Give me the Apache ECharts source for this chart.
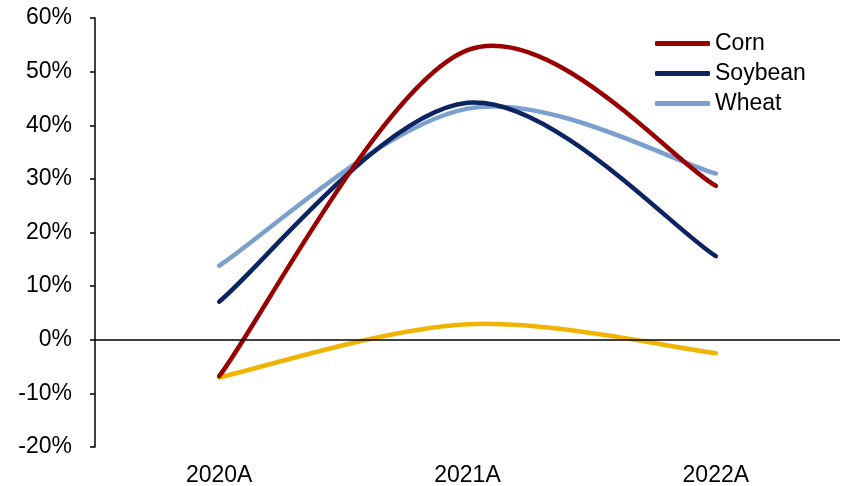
<!DOCTYPE html>
<html>
<head>
<meta charset="utf-8">
<script src="https://cdn.jsdelivr.net/npm/echarts@6/dist/echarts.min.js"></script>
<style>html,body{margin:0;padding:0;background:#fff}#c{width:845px;height:486px}</style>
</head>
<body>
<div id="c"></div>
<script>
const categories = ['2020A', '2021A', '2022A'];
const corn = [-6.8, 54.0, 28.7];
const soybean = [7.1, 44.2, 15.6];
const wheat = [13.8, 43.1, 31.0];
const other = [-7.0, 2.9, -2.5];
const yTicks = [-20, -10, 0, 10, 20, 30, 40, 50, 60];

const chart = echarts.init(document.getElementById('c'));
const font = 'Liberation Sans, Arial, sans-serif';

// Smoothed line (Catmull-Rom style, like a spreadsheet's smoothed line) drawn via the axes' scales
function smoothLine(name, values, color) {
  return {
    name: name, type: 'custom', z: 3,
    data: values.map((v, i) => [i, v]),
    itemStyle: { color: color },
    encode: { x: 0, y: 1 },
    renderItem: function (params, api) {
      if (params.dataIndex !== 0) return null;
      const pts = values.map((v, i) => api.coord([i, v]));
      const n = pts.length;
      let d = 'M' + pts[0][0] + ' ' + pts[0][1];
      for (let i = 0; i < n - 1; i++) {
        const p0 = pts[Math.max(i - 1, 0)], p1 = pts[i], p2 = pts[i + 1], p3 = pts[Math.min(i + 2, n - 1)];
        const c1 = [p1[0] + (p2[0] - p0[0]) / 6, p1[1] + (p2[1] - p0[1]) / 6];
        const c2 = [p2[0] - (p3[0] - p1[0]) / 6, p2[1] - (p3[1] - p1[1]) / 6];
        d += ' C' + c1[0] + ' ' + c1[1] + ' ' + c2[0] + ' ' + c2[1] + ' ' + p2[0] + ' ' + p2[1];
      }
      return {
        type: 'path',
        shape: { pathData: d },
        style: { fill: 'none', stroke: color, lineWidth: 4.5, lineCap: 'round', lineJoin: 'round' }
      };
    }
  };
}

chart.setOption({
  animation: false,
  grid: { left: 95, right: 5, top: 18, bottom: 39, containLabel: false, outerBoundsMode: 'none' },
  legend: {
    data: ['Corn', 'Soybean', 'Wheat'],
    orient: 'vertical', left: 655, top: 32, padding: 0,
    itemWidth: 55, itemHeight: 5, itemGap: 7, icon: 'roundRect',
    textStyle: { fontFamily: font, fontSize: 23, color: '#000', lineHeight: 23 }
  },
  xAxis: {
    type: 'category', data: categories, boundaryGap: true,
    axisLine: { show: false }, axisTick: { show: false },
    axisLabel: { fontFamily: font, fontSize: 23, color: '#000', margin: 17 }
  },
  yAxis: {
    type: 'value', min: yTicks[0], max: yTicks[yTicks.length - 1], interval: 10,
    splitLine: { show: false },
    axisLine: { show: true, lineStyle: { color: '#000', width: 1.5 } },
    axisTick: { show: true, length: 5, lineStyle: { color: '#000', width: 1.5 } },
    axisLabel: { fontFamily: font, fontSize: 23, color: '#000', margin: 23, padding: [4, 0, 0, 0], formatter: v => v + '%' }
  },
  series: [
    {
      name: 'zero', type: 'line', data: [], z: 1, silent: true,
      markLine: {
        silent: true, symbol: ['none', 'none'], animation: false,
        label: { show: false },
        lineStyle: { color: '#000', width: 1.5, type: 'solid' },
        data: [{ yAxis: 0 }]
      }
    },
    smoothLine('Other', other, '#F0B400'),
    smoothLine('Wheat', wheat, '#7BA0CE'),
    smoothLine('Soybean', soybean, '#0C2462'),
    smoothLine('Corn', corn, '#990000')
  ]
});
</script>
</body>
</html>
